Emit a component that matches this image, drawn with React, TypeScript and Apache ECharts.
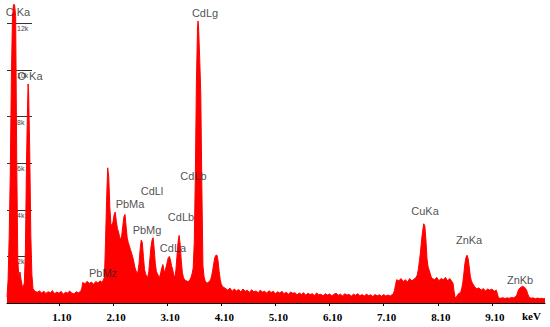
import React, { useEffect, useRef } from "react";
import * as echarts from "echarts";

// Energy (keV), counts (thousands)
const lowEnergySegment: [number, number][] = [
  [0.14, 0.25], [0.16, 1.0], [0.18, 2.8], [0.2, 5.5], [0.22, 9.5], [0.24, 12.2], [0.26, 12.8],
  [0.28, 12.8], [0.3, 12.3], [0.32, 6.0], [0.34, 1.8], [0.36, 1.1], [0.38, 1.33], [0.4, 1.0],
  [0.42, 0.75], [0.44, 0.7], [0.46, 0.85], [0.48, 2.2], [0.5, 6.0], [0.52, 8.5], [0.53, 9.4],
  [0.54, 9.0], [0.56, 6.5], [0.58, 2.9], [0.6, 1.2], [0.62, 0.62], [0.64, 0.55], [0.66, 0.5],
  [0.7, 0.46], [0.74, 0.52], [0.78, 0.43], [0.82, 0.5], [0.86, 0.41], [0.9, 0.48], [0.94, 0.44],
  [0.98, 0.53], [1.02, 0.4], [1.06, 0.47], [1.1, 0.42], [1.14, 0.5], [1.18, 0.38], [1.22, 0.46],
  [1.26, 0.43], [1.3, 0.51], [1.34, 0.42], [1.38, 0.39], [1.42, 0.48], [1.46, 0.44], [1.5, 0.5],
  [1.52, 0.6], [1.54, 0.88], [1.58, 0.82], [1.62, 0.93], [1.66, 0.84], [1.7, 0.9], [1.74, 0.8],
  [1.78, 0.92], [1.82, 0.86], [1.86, 0.95], [1.9, 0.88], [1.92, 1.0],
];

const pbCdSegment: [number, number][] = [
  [1.94, 1.1], [1.96, 2.6], [1.98, 4.4], [2.0, 5.8], [2.02, 5.4], [2.04, 4.1], [2.06, 3.4],
  [2.08, 3.3], [2.1, 3.5], [2.12, 3.8], [2.14, 3.9], [2.16, 3.5], [2.18, 3.2], [2.2, 3.05],
  [2.22, 2.85], [2.24, 2.7], [2.26, 2.9], [2.28, 3.3], [2.3, 3.7], [2.32, 3.8], [2.34, 3.3],
  [2.36, 2.8], [2.38, 2.6], [2.4, 2.45], [2.42, 2.3], [2.44, 2.15], [2.46, 2.0], [2.48, 1.8],
  [2.5, 1.55], [2.52, 1.4], [2.54, 1.3], [2.56, 1.35], [2.58, 1.7], [2.6, 2.3], [2.62, 2.7],
  [2.64, 2.6], [2.66, 2.0], [2.68, 1.45], [2.7, 1.25], [2.72, 1.15], [2.74, 1.1], [2.76, 1.35],
  [2.78, 1.9], [2.8, 2.4], [2.82, 2.7], [2.84, 2.8], [2.86, 2.3], [2.88, 1.7], [2.9, 1.35],
  [2.92, 1.25], [2.94, 1.15], [2.96, 1.1], [2.98, 1.3], [3.0, 1.5], [3.02, 1.65], [3.04, 1.4],
  [3.06, 1.35], [3.08, 1.55], [3.1, 1.75], [3.12, 1.95], [3.14, 2.0], [3.16, 1.85], [3.18, 1.6],
  [3.2, 1.45], [3.22, 1.2], [3.24, 1.1], [3.26, 1.4], [3.28, 2.0], [3.3, 2.6], [3.32, 2.9],
  [3.34, 2.5], [3.36, 1.8], [3.38, 1.3], [3.4, 1.1], [3.42, 1.0], [3.44, 0.97], [3.46, 0.95],
  [3.48, 0.9], [3.5, 0.95], [3.52, 1.0], [3.54, 1.1], [3.56, 1.25], [3.58, 1.5], [3.6, 2.6],
  [3.62, 5.5], [3.64, 9.5], [3.66, 11.8], [3.67, 12.1], [3.68, 11.8], [3.7, 10.5], [3.72, 9.0],
  [3.74, 5.0], [3.76, 1.6], [3.78, 1.15], [3.8, 0.95], [3.82, 0.88], [3.84, 0.85], [3.86, 0.9],
  [3.88, 0.92], [3.9, 1.0], [3.92, 1.15], [3.94, 1.4], [3.96, 1.7], [3.98, 1.95], [4.0, 2.05],
  [4.02, 2.05], [4.04, 1.8], [4.06, 1.35], [4.08, 1.0], [4.1, 0.8], [4.12, 0.72], [4.14, 0.68],
];

const baselineSegment: [number, number][] = [
  [4.18, 0.62], [4.22, 0.55], [4.26, 0.64], [4.3, 0.5], [4.34, 0.6], [4.38, 0.52], [4.42, 0.58],
  [4.46, 0.47], [4.5, 0.6], [4.54, 0.5], [4.58, 0.55], [4.62, 0.45], [4.66, 0.57], [4.7, 0.48],
  [4.74, 0.52], [4.78, 0.44], [4.82, 0.55], [4.86, 0.47], [4.9, 0.5], [4.94, 0.42], [4.98, 0.53],
  [5.02, 0.45], [5.06, 0.5], [5.1, 0.4], [5.14, 0.48], [5.18, 0.43], [5.22, 0.5], [5.26, 0.4],
  [5.3, 0.46], [5.34, 0.38], [5.38, 0.47], [5.42, 0.42], [5.46, 0.44], [5.5, 0.35], [5.54, 0.43],
  [5.58, 0.37], [5.62, 0.44], [5.66, 0.33], [5.7, 0.42], [5.74, 0.36], [5.78, 0.4], [5.82, 0.32],
  [5.86, 0.43], [5.9, 0.35], [5.94, 0.38], [5.98, 0.3], [6.02, 0.4], [6.06, 0.34], [6.1, 0.39],
  [6.14, 0.31], [6.18, 0.37], [6.22, 0.42], [6.26, 0.33], [6.3, 0.38], [6.34, 0.3], [6.38, 0.4],
  [6.42, 0.34], [6.46, 0.37], [6.5, 0.29], [6.54, 0.38], [6.58, 0.33], [6.62, 0.4], [6.66, 0.31],
  [6.7, 0.36], [6.74, 0.3], [6.78, 0.38], [6.82, 0.32], [6.86, 0.35], [6.9, 0.28], [6.94, 0.36],
  [6.98, 0.31], [7.02, 0.35], [7.06, 0.29], [7.1, 0.36], [7.14, 0.3], [7.18, 0.34], [7.22, 0.3],
  [7.26, 0.36], [7.28, 0.42], [7.3, 0.55], [7.32, 0.8],
];

const cuZnSegment: [number, number][] = [
  [7.34, 1.0], [7.38, 0.95], [7.42, 1.05], [7.46, 0.92], [7.5, 1.0], [7.54, 0.9], [7.58, 1.05],
  [7.62, 0.95], [7.66, 1.02], [7.7, 1.1], [7.72, 1.2], [7.74, 1.45], [7.76, 1.8], [7.78, 2.2],
  [7.8, 2.7], [7.82, 3.1], [7.84, 3.4], [7.86, 3.3], [7.88, 2.7], [7.9, 1.9], [7.92, 1.55],
  [7.94, 1.4], [7.96, 1.25], [7.98, 1.1], [8.0, 1.05], [8.04, 1.0], [8.08, 1.1], [8.12, 0.95],
  [8.16, 1.05], [8.2, 1.0], [8.24, 1.1], [8.28, 0.95], [8.32, 1.05], [8.36, 0.92], [8.38, 0.85],
  [8.4, 0.5], [8.42, 0.22], [8.44, 0.25], [8.48, 0.4], [8.52, 0.45], [8.54, 0.6], [8.56, 0.85],
  [8.58, 1.25], [8.6, 1.7], [8.62, 1.95], [8.64, 2.05], [8.66, 1.9], [8.68, 1.55], [8.7, 1.15],
  [8.72, 0.95], [8.74, 0.85], [8.78, 0.7], [8.82, 0.6], [8.86, 0.65], [8.9, 0.55], [8.94, 0.62],
  [8.98, 0.52], [9.02, 0.6], [9.06, 0.55], [9.1, 0.6], [9.14, 0.5], [9.18, 0.55], [9.2, 0.4],
  [9.22, 0.22], [9.26, 0.2], [9.3, 0.23], [9.34, 0.19], [9.38, 0.22], [9.42, 0.2], [9.46, 0.24],
  [9.5, 0.22], [9.54, 0.28], [9.56, 0.35], [9.58, 0.5], [9.6, 0.6], [9.62, 0.65], [9.64, 0.68],
  [9.66, 0.72], [9.68, 0.7], [9.7, 0.68], [9.72, 0.62], [9.74, 0.55], [9.76, 0.4], [9.78, 0.28],
  [9.82, 0.2], [9.86, 0.22], [9.9, 0.18], [9.94, 0.21], [9.98, 0.19], [10.02, 0.2], [10.06, 0.18],
  [10.08, 0.19],
];

// Peak labels: name, energy (keV), height (thousands)
const peakNames = ["C Ka", "O Ka", "CdLg", "CdLb", "CdLl", "PbMa", "CdLb", "PbMg", "CdLa", "PbMz", "CuKa", "ZnKa", "ZnKb"];
const peakEnergies = [0.343, 0.565, 3.799, 3.586, 2.819, 2.413, 3.355, 2.727, 3.207, 1.914, 7.864, 8.677, 9.619];
const peakHeights = [12.5, 9.72, 12.43, 5.46, 4.82, 4.26, 3.7, 3.14, 2.37, 1.29, 3.96, 2.71, 0.99];

const xTickValues = [1.1, 2.1, 3.1, 4.1, 5.1, 6.1, 7.1, 8.1, 9.1];
const yTickValues = [2, 4, 6, 8, 10, 12];

export default function App() {
  const ref = useRef<HTMLDivElement>(null);
  useEffect(() => {
    if (!ref.current) return;
    const chart = echarts.init(ref.current, null, { renderer: "svg" });
    const spectrum = [...lowEnergySegment, ...pbCdSegment, ...baselineSegment, ...cuZnSegment];
    const labels = peakNames.map((n, i) => ({ name: n, value: [peakEnergies[i], peakHeights[i]] }));
    chart.setOption({
      animation: false,
      backgroundColor: "#ffffff",
      grid: { left: 7, right: 5, top: 0, bottom: 24, containLabel: false },
      xAxis: {
        type: "value",
        min: 0.14,
        max: 10.08,
        axisLine: { show: true, lineStyle: { color: "#000", width: 1 } },
        axisTick: { show: true, customValues: xTickValues, length: 3, lineStyle: { color: "#000" } },
        axisLabel: {
          customValues: xTickValues,
          formatter: (v: number) => v.toFixed(2),
          color: "#000",
          fontFamily: "Liberation Serif",
          fontWeight: "bold",
          fontSize: 11,
          margin: 8,
          padding: [0, 0, 0, 6],
        },
        splitLine: { show: false },
      },
      yAxis: {
        type: "value",
        min: 0,
        max: 13,
        axisLine: { show: false },
        axisTick: {
          show: true,
          inside: true,
          length: 25,
          customValues: yTickValues,
          lineStyle: { color: "#333", width: 1 },
        },
        axisLabel: {
          inside: true,
          customValues: yTickValues,
          margin: 10,
          fontSize: 7,
          color: "#444",
          fontFamily: "Liberation Sans",
          verticalAlign: "top",
          padding: [2, 0, 0, 0],
          formatter: (v: number) => v + "k",
        },
        splitLine: { show: false },
      },
      series: [
        {
          type: "line",
          z: 2,
          data: spectrum,
          showSymbol: false,
          symbol: "none",
          lineStyle: { color: "#ff0000", width: 1 },
          areaStyle: { color: "#ff0000", opacity: 1 },
          clip: true,
        },
        {
          type: "scatter",
          z: 10,
          zlevel: 1,
          data: labels,
          symbolSize: 1,
          itemStyle: { color: "rgba(0,0,0,0)" },
          label: {
            show: true,
            position: "inside",
            formatter: (p: any) => p.name,
            color: "#222",
            fontFamily: "Liberation Sans",
            fontSize: 11,
          },
        },
      ],
      graphic: [
        {
          type: "text",
          left: 522,
          top: 310,
          style: { text: "keV", font: 'bold 11px "Liberation Serif"', fill: "#000" },
        },
      ],
    });
    return () => chart.dispose();
  }, []);
  return (
    <div
      ref={ref}
      style={{ position: "fixed", left: 0, top: 0, width: 550, height: 327, background: "#fff" }}
    />
  );
}
